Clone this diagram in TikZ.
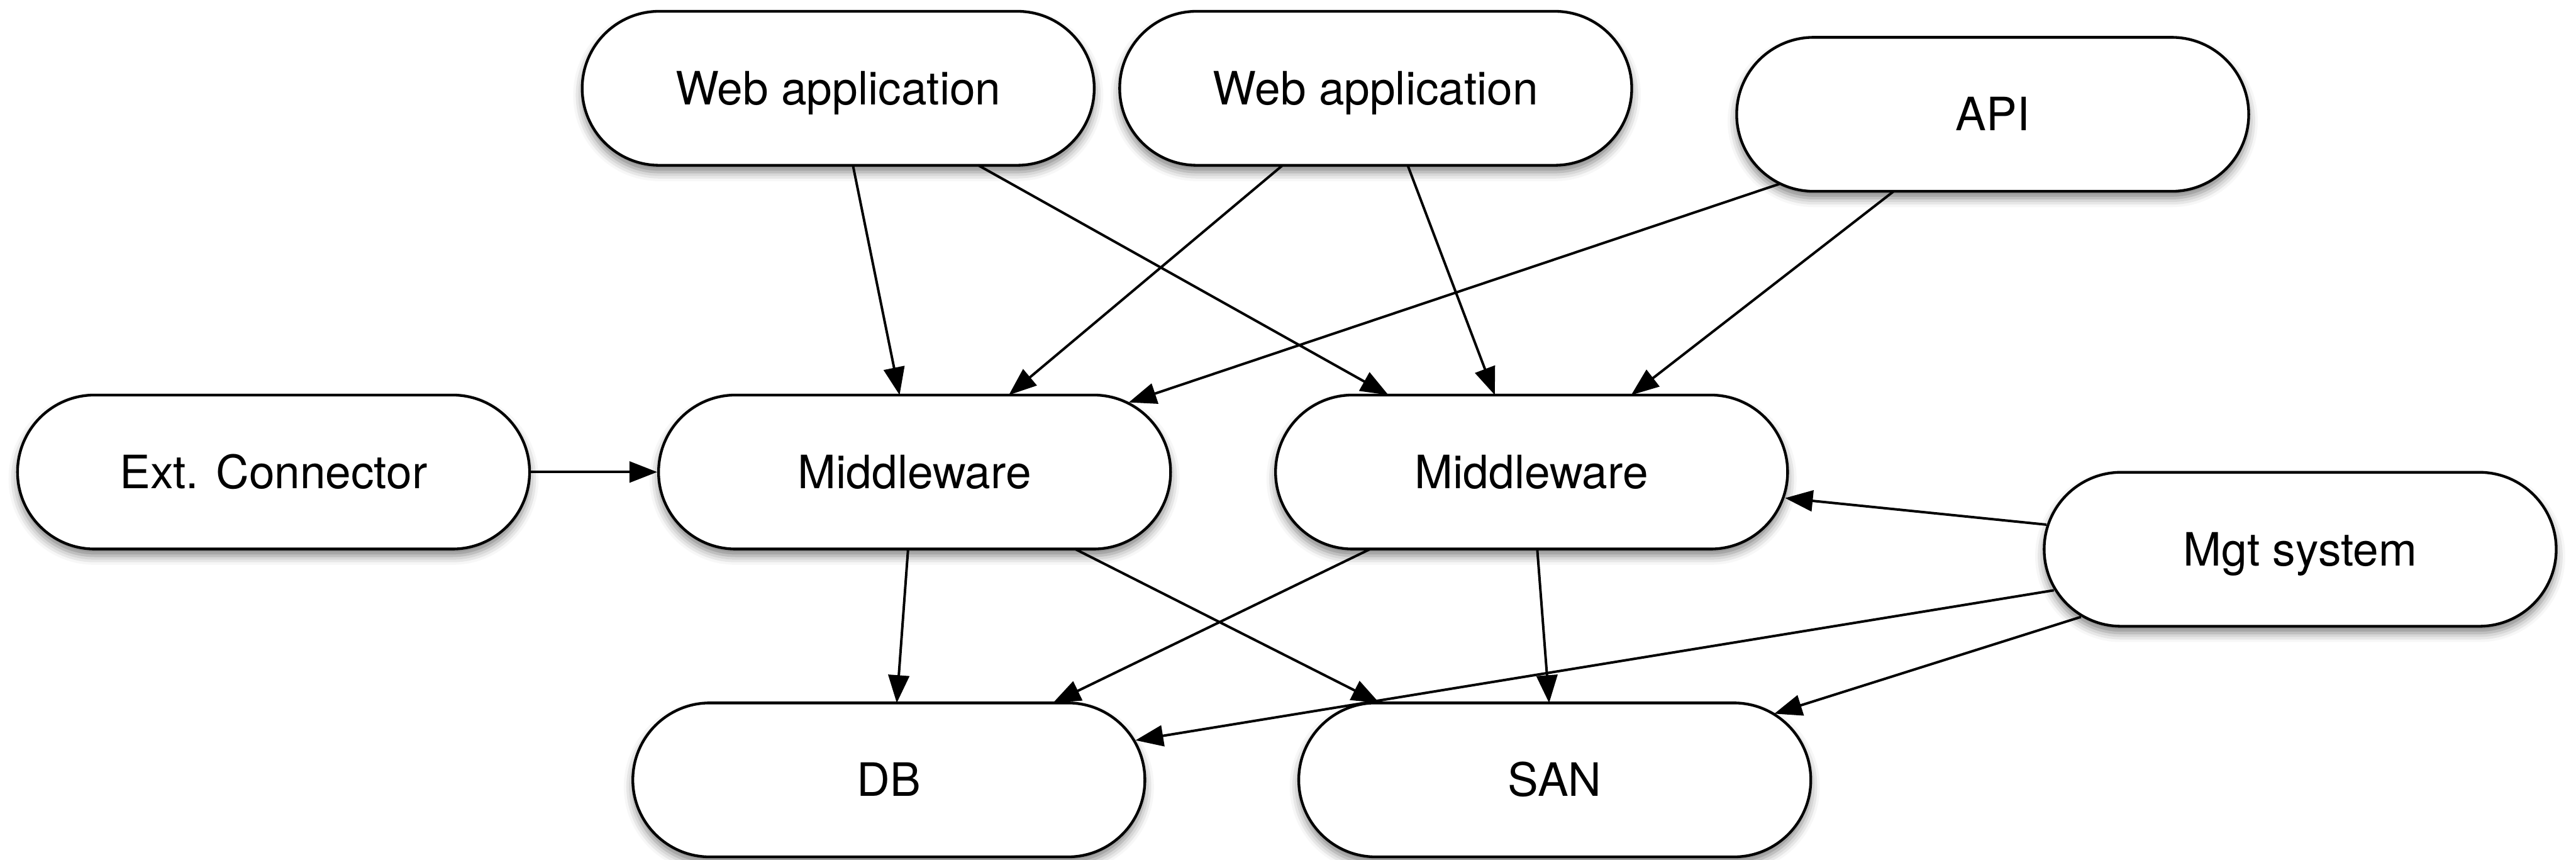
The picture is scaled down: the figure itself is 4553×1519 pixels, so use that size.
\documentclass[tikz,border=0pt]{standalone}
\usepackage{fontspec}
\setmainfont{TeX Gyre Heros}
\usetikzlibrary{shapes.misc,arrows.meta,calc,shadows.blur}
\begin{document}
\begin{tikzpicture}[x=0.25pt,y=-0.25pt,
  box/.style={rounded rectangle, draw=black, line width=1.2pt, fill=white,
    minimum width=226.25pt, minimum height=68pt, inner sep=0pt,
    text height=14.6pt, text depth=0pt,
    font=\fontsize{20.3}{24}\selectfont,
    blur shadow={shadow xshift=0pt, shadow yshift=-3pt, shadow blur radius=4pt, shadow opacity=50}},
  conn/.style={line width=1.1pt, -{Triangle[length=12.25pt,width=9.25pt]}}]
\useasboundingbox (0,0) rectangle (4553,1519);

\node[box] (wa1) at (1481.5,156) {Web application};
\node[box] (wa2) at (2431.5,156) {Web application};
\node[box] (api) at (3522,202) {API};
\node[box] (ext) at (483.5,834) {Ext. Connector};
\node[box] (mw1) at (1616.5,834) {Middleware};
\node[box] (mw2) at (2707,834) {Middleware};
\node[box] (mgt) at (4065.5,970.5) {Mgt system};
\node[box] (db) at (1571,1378) {DB};
\node[box] (san) at (2748,1378) {SAN};

\draw[conn] ($(wa1.center)+(26,136)$) -- ($(mw1.center)+(-26.5,-136)$);
\draw[conn] ($(wa1.center)+(247.5,136)$) -- ($(mw2.center)+(-253,-136)$);
\draw[conn] ($(wa2.center)+(-164.5,136)$) -- ($(mw1.center)+(166.5,-136)$);
\draw[conn] ($(wa2.center)+(56.5,136)$) -- ($(mw2.center)+(-65,-136)$);
\draw[conn] ($(api.center)+(-377,123)$) -- ($(mw1.center)+(378.5,-123)$);
\draw[conn] ($(api.center)+(-175,136)$) -- ($(mw2.center)+(176,-136)$);
\draw[conn] (ext.east) -- (mw1.west);
\draw[conn] ($(mgt.center)+(-448.5,-43.5)$) -- ($(mw2.center)+(448,46)$);
\draw[conn] ($(mw1.center)+(-11.5,136)$) -- ($(db.center)+(14,-136)$);
\draw[conn] ($(mw1.center)+(283.5,136)$) -- ($(san.center)+(-310,-136)$);
\draw[conn] ($(mw2.center)+(-285,136)$) -- ($(db.center)+(290,-136)$);
\draw[conn] ($(mw2.center)+(10,136)$) -- ($(san.center)+(-10,-136)$);
\draw[conn] ($(mgt.center)+(-435.5,72.5)$) -- ($(db.center)+(436,-70)$);
\draw[conn] ($(mgt.center)+(-387.5,119.5)$) -- ($(san.center)+(388,-117)$);
\end{tikzpicture}
\end{document}
